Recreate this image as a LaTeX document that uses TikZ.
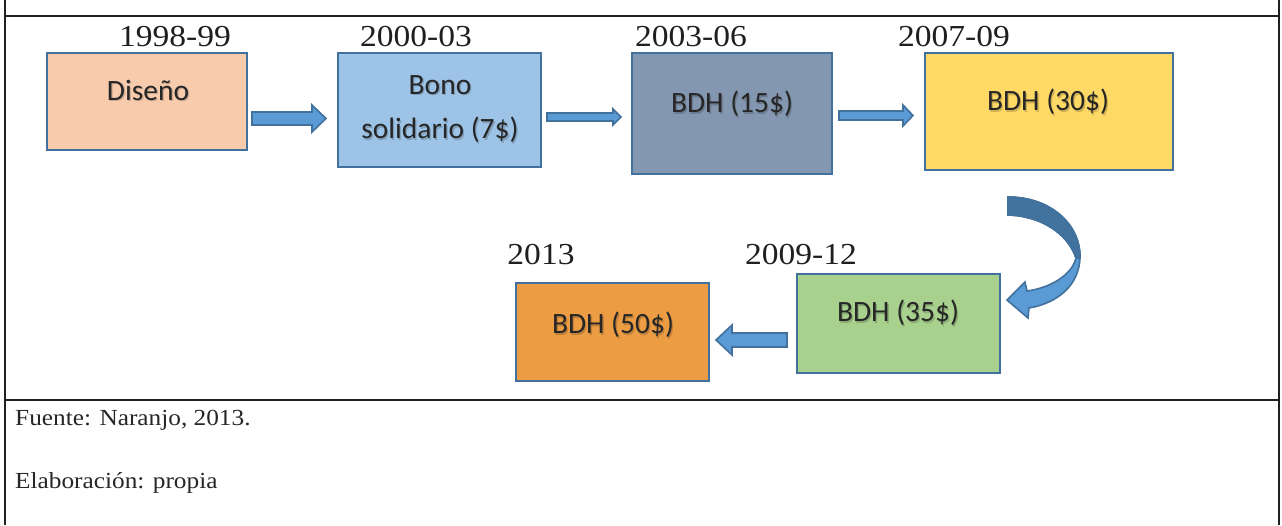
\documentclass[tikz,border=0pt]{standalone}
\usepackage{fontspec}
\usetikzlibrary{calc}
\setmainfont[FakeStretch=1.1]{Liberation Serif}
\newfontfamily\boxfont{Carlito}
\definecolor{bordc}{HTML}{41719C}
\definecolor{arrc}{HTML}{5B9BD5}
\definecolor{fA}{HTML}{F8CBAD}
\definecolor{fB}{HTML}{9DC3E6}
\definecolor{fC}{HTML}{8497B0}
\definecolor{fD}{HTML}{FFD966}
\definecolor{fE}{HTML}{A9D18E}
\definecolor{fF}{HTML}{EC9D44}
\definecolor{framec}{HTML}{202020}
\newcommand\shtxt[3]{%
  \node[boxtxt,text=black,opacity=0.18] at ($(#2)+(1.3,1.3)$) {#3};
  \node[boxtxt] (#1) at (#2) {#3};}
\begin{document}
\begin{tikzpicture}[x=1pt,y=-1pt,
  stagebox/.style={draw=bordc,line width=2.4pt},
  boxtxt/.style={font=\boxfont\fontsize{29.5}{34}\selectfont,text=black!85,inner sep=0pt},
  yeartxt/.style={font=\fontsize{30.5}{36}\selectfont,text=black!88,inner sep=0pt,anchor=base},
  foottxt/.style={font=\fontsize{23}{26}\selectfont,text=black!85,inner sep=0pt,anchor=base west},
  blockarr/.style={fill=arrc,draw=bordc,line width=1.6pt,line join=miter},
  framel/.style={draw=framec,line width=2.6pt}]
\useasboundingbox (0,0) rectangle (1282,525);
% frame
\draw[framel] (5,0) -- (5,525);
\draw[framel] (1279,0) -- (1279,525);
\draw[framel] (5,16) -- (1279,16);
\draw[framel] (5,400) -- (1279,400);
% boxes
\draw[stagebox,fill=fA] (47,53) rectangle (247,150);
\draw[stagebox,fill=fB] (338,53) rectangle (541,167);
\draw[stagebox,fill=fC] (632,53) rectangle (832,174);
\draw[stagebox,fill=fD] (925,53) rectangle (1173,170);
\draw[stagebox,fill=fE] (797,274) rectangle (1000,373);
\draw[stagebox,fill=fF] (516,283) rectangle (709,381);
% box texts
\shtxt{t1}{148,90}{Diseño}
\shtxt{t2a}{440,85}{Bono}
\shtxt{t2b}{440,130}{solidario (7\$)}
\shtxt{t3}{732,104}{BDH (15\$)}
\shtxt{t4}{1048,102}{BDH (30\$)}
\shtxt{t5}{898,313}{BDH (35\$)}
\shtxt{t6}{613,325}{BDH (50\$)}
% years
\node[yeartxt] (y1) at (175,46) {1998-99};
\node[yeartxt] (y2) at (416,46) {2000-03};
\node[yeartxt] (y3) at (691,46) {2003-06};
\node[yeartxt] (y4) at (954,46) {2007-09};
\node[yeartxt] (y5) at (801,264) {2009-12};
\node[yeartxt] (y6) at (541,264) {2013};
% footer
\node[foottxt] (f1) at (15,425) {Fuente: Naranjo, 2013.};
\node[foottxt] (f2) at (15,488) {Elaboración: propia};
% block arrows
\draw[blockarr] (252,112) -- (312,112) -- (312,105) -- (326,118.5) -- (312,132) -- (312,125) -- (252,125) -- cycle;
\draw[blockarr] (547,113) -- (613,113) -- (613,109) -- (621,117) -- (613,125) -- (613,121) -- (547,121) -- cycle;
\draw[blockarr] (839,111) -- (903,111) -- (903,105) -- (913,115.5) -- (903,126) -- (903,120) -- (839,120) -- cycle;
\draw[blockarr] (787,333) -- (732,333) -- (732,325) -- (716,340) -- (732,355) -- (732,347) -- (787,347) -- cycle;
% curved arrow
\draw[blockarr] (1008,197) .. controls (1052,197) and (1081,226) .. (1080,258)
  .. controls (1079,285) and (1058,303) .. (1029,308) -- (1028,318) -- (1007,300) -- (1025,282) -- (1027,291)
  .. controls (1050,288) and (1072,275) .. (1076,258)
  .. controls (1068,234) and (1042,216) .. (1008,215) -- cycle;
\draw[blockarr,fill=bordc!95!arrc] (1008,197) .. controls (1052,197) and (1081,226) .. (1080,258)
  -- (1076,258) .. controls (1068,234) and (1042,216) .. (1008,215) -- cycle;
\end{tikzpicture}
\end{document}
